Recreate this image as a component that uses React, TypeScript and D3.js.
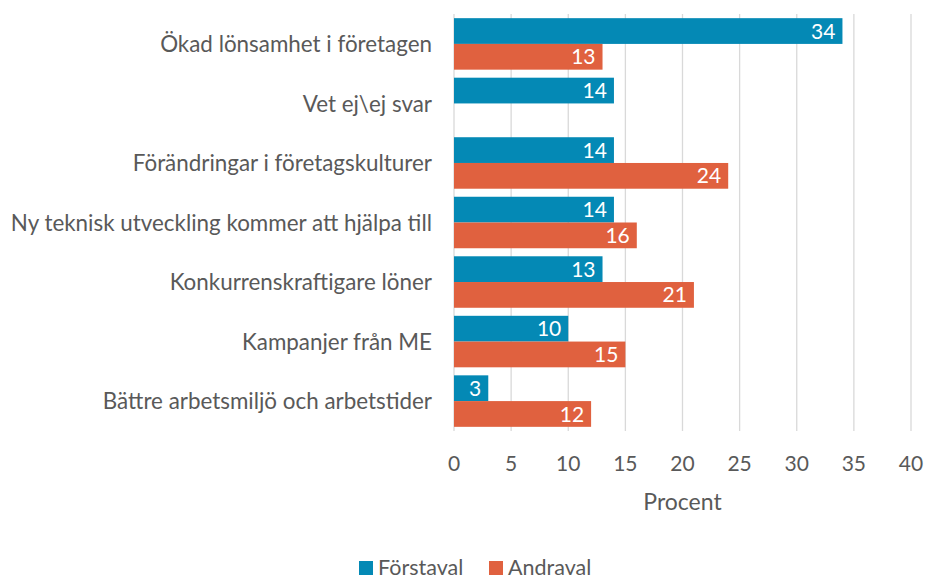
import { useEffect, useRef } from 'react';
import * as d3 from 'd3';

const categories = [
  'Ökad lönsamhet i företagen',
  'Vet ej\\ej svar',
  'Förändringar i företagskulturer',
  'Ny teknisk utveckling kommer att hjälpa till',
  'Konkurrenskraftigare löner',
  'Kampanjer från ME',
  'Bättre arbetsmiljö och arbetstider',
];
const forstaval: (number | null)[] = [34, 14, 14, 14, 13, 10, 3];
const andraval: (number | null)[] = [13, null, 24, 16, 21, 15, 12];
const seriesNames = ['Förstaval', 'Andraval'];
const colors = ['#0489B5', '#E0613F'];
const xTicks = [0, 5, 10, 15, 20, 25, 30, 35, 40];

export default function App() {
  const svgRef = useRef<SVGSVGElement>(null);

  useEffect(() => {
    const width = 926;
    const height = 580;
    const font = 'Lato, "Open Sans", sans-serif';
    const textColor = '#595959';

    const svg = d3.select(svgRef.current);
    svg.selectAll('*').remove();
    svg.attr('width', width).attr('height', height);

    const x = d3.scaleLinear().domain([0, 40]).range([454, 911]);
    const y = d3.scaleBand().domain(categories).range([14, 431]).paddingInner(0.135).paddingOuter(0.07);
    const sub = d3.scaleBand().domain(seriesNames).range([0, y.bandwidth()]);

    // grid
    svg.append('g')
      .selectAll('line')
      .data(xTicks)
      .join('line')
      .attr('x1', d => x(d)).attr('x2', d => x(d))
      .attr('y1', 14).attr('y2', 431)
      .attr('stroke', '#d9d9d9')
      .attr('stroke-width', 1.3);

    // tick labels
    svg.append('g')
      .selectAll('text')
      .data(xTicks)
      .join('text')
      .attr('x', d => x(d))
      .attr('y', 463)
      .attr('dy', '0.36em')
      .attr('text-anchor', 'middle')
      .attr('fill', textColor)
      .style('font-family', font)
      .style('font-size', '21px')
      .text(d => d);

    svg.append('text')
      .attr('x', x(20))
      .attr('y', 502)
      .attr('dy', '0.36em')
      .attr('text-anchor', 'middle')
      .attr('fill', textColor)
      .style('font-family', font)
      .style('font-size', '23px')
      .text('Procent');

    // category labels
    svg.append('g')
      .selectAll('text')
      .data(categories)
      .join('text')
      .attr('x', 432)
      .attr('y', d => y(d)! + y.bandwidth() / 2)
      .attr('dy', '0.36em')
      .attr('text-anchor', 'end')
      .attr('fill', textColor)
      .style('font-family', font)
      .style('font-size', '22.4px')
      .text(d => d);

    const series = [forstaval, andraval];
    series.forEach((vals, si) => {
      const items = categories
        .map((c, i) => ({ c, v: vals[i] }))
        .filter(d => d.v != null) as { c: string; v: number }[];
      const g = svg.append('g');
      g.selectAll('rect')
        .data(items)
        .join('rect')
        .attr('x', x(0))
        .attr('y', d => y(d.c)! + sub(seriesNames[si])!)
        .attr('width', d => x(d.v) - x(0))
        .attr('height', sub.bandwidth())
        .attr('fill', colors[si]);
      g.selectAll('text')
        .data(items)
        .join('text')
        .attr('x', d => x(d.v) - 7)
        .attr('y', d => y(d.c)! + sub(seriesNames[si])! + sub.bandwidth() / 2)
        .attr('dy', '0.36em')
        .attr('text-anchor', 'end')
        .attr('fill', 'white')
        .style('font-family', font)
        .style('font-size', '21px')
        .text(d => d.v);
    });

    // legend
    const legendX = [359, 489];
    seriesNames.forEach((name, i) => {
      svg.append('rect')
        .attr('x', legendX[i]).attr('y', 561)
        .attr('width', 14).attr('height', 14)
        .attr('fill', colors[i]);
      svg.append('text')
        .attr('x', legendX[i] + 19)
        .attr('y', 567)
        .attr('dy', '0.36em')
        .attr('fill', textColor)
        .style('font-family', font)
        .style('font-size', '21.5px')
        .text(name);
    });
  }, []);

  return <svg ref={svgRef} style={{ position: 'absolute', left: 0, top: 0 }}></svg>;
}
